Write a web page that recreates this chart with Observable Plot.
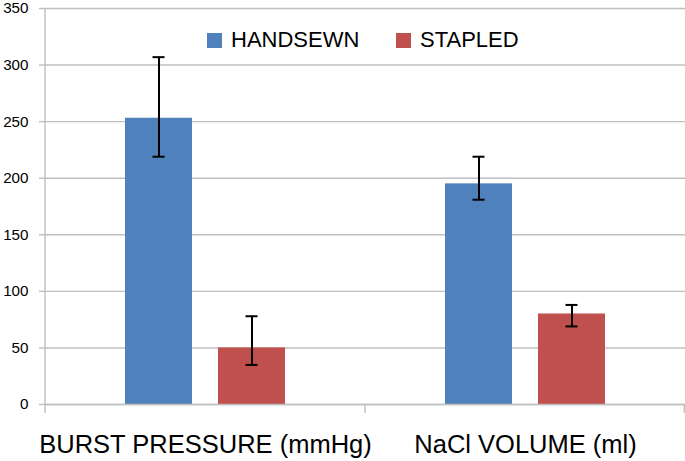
<!DOCTYPE html>
<html>
<head>
<meta charset="utf-8">
<script src="https://cdn.jsdelivr.net/npm/d3@7"></script>
<script src="https://cdn.jsdelivr.net/npm/@observablehq/plot@0.6"></script>
<style>
  html, body { margin: 0; padding: 0; background: #fff; }
  #wrap { position: relative; width: 685px; height: 461px; font-family: "Liberation Sans", Arial, sans-serif; }
  #legend { position: absolute; top: 26px; left: 0; width: 685px; height: 28px; }
  .item { position: absolute; display: flex; align-items: center; height: 28px; font-size: 22px; color: #000; }
  .sw { width: 15px; height: 15px; margin-right: 9px; }
</style>
</head>
<body>
<div id="wrap">
  <div id="chart"></div>
  <div id="legend"></div>
</div>
<script>
const categories = ["BURST PRESSURE (mmHg)", "NaCl VOLUME (ml)"];
const series = ["HANDSEWN", "STAPLED"];
const colors = ["#4F81BD", "#C0504D"];
const handsewn = [253, 195];
const handsewnLow = [219, 181];
const handsewnHigh = [307, 219];
const stapled = [50, 80];
const stapledLow = [35, 69];
const stapledHigh = [78, 88];
const yTicks = [0, 50, 100, 150, 200, 250, 300, 350];

const data = [];
categories.forEach((c, i) => {
  data.push({category: c, series: series[0], value: handsewn[i], low: handsewnLow[i], high: handsewnHigh[i]});
  data.push({category: c, series: series[1], value: stapled[i], low: stapledLow[i], high: stapledHigh[i]});
});

const gridColor = "#bfbfbf";

const plot = Plot.plot({
  width: 685,
  height: 461,
  marginLeft: 45,
  marginRight: 0,
  marginTop: 8,
  marginBottom: 57,
  style: {fontFamily: "'Liberation Sans', Arial, sans-serif", color: "#000", background: "#fff"},
  fx: {domain: categories, padding: 0, label: null, axis: null},
  x: {domain: series, paddingInner: 0.28, paddingOuter: 0.86, axis: null},
  y: {domain: [0, 350], label: null},
  color: {domain: series, range: colors},
  marks: [
    Plot.gridY(yTicks, {stroke: gridColor, strokeOpacity: 1, strokeWidth: 1.4}),
    Plot.axisY(yTicks, {tickSize: 6, tickPadding: 11, fontSize: 15.2, stroke: gridColor, strokeOpacity: 1, strokeWidth: 1.4, label: null}),
    Plot.axisFx({anchor: "bottom", tickSize: 0, tickPadding: 30, fontSize: 25.5, label: null}),
    Plot.barY(data, {fx: "category", x: "series", y: "value", fill: "series"}),
    Plot.ruleX(data, {fx: "category", x: "series", y1: "low", y2: "high", stroke: "#000", strokeWidth: 2}),
    Plot.tickY(data, {fx: "category", x: "series", y: "low", stroke: "#000", strokeWidth: 2, insetLeft: 27.5, insetRight: 27.5}),
    Plot.tickY(data, {fx: "category", x: "series", y: "high", stroke: "#000", strokeWidth: 2, insetLeft: 27.5, insetRight: 27.5}),
    Plot.ruleY([0], {stroke: gridColor, strokeWidth: 1.4})
  ]
});

document.getElementById("chart").appendChild(plot);

// axis line and category boundary ticks derived from the scales
const fx = plot.scale("fx");
const y = plot.scale("y");
const svg = d3.select(plot);
const y0 = y.apply(0);
const yTop = y.apply(350);
const bounds = categories.map(c => fx.apply(c));
bounds.push(fx.apply(categories[categories.length - 1]) + fx.bandwidth);
const g = svg.append("g").attr("stroke", gridColor).attr("stroke-width", 1.4);
g.append("line").attr("x1", bounds[0]).attr("x2", bounds[0]).attr("y1", yTop).attr("y2", y0 + 9);
bounds.slice(1).forEach(b => {
  const xb = Math.min(b, 684.3);
  g.append("line").attr("x1", xb).attr("x2", xb).attr("y1", y0).attr("y2", y0 + 9);
});

// legend
const legend = document.getElementById("legend");
const legendX = [207, 396];
series.forEach((s, i) => {
  const it = document.createElement("div");
  it.className = "item";
  it.style.left = legendX[i] + "px";
  it.innerHTML = `<div class="sw" style="background:${colors[i]}"></div><span>${s}</span>`;
  legend.appendChild(it);
});
</script>
</body>
</html>
